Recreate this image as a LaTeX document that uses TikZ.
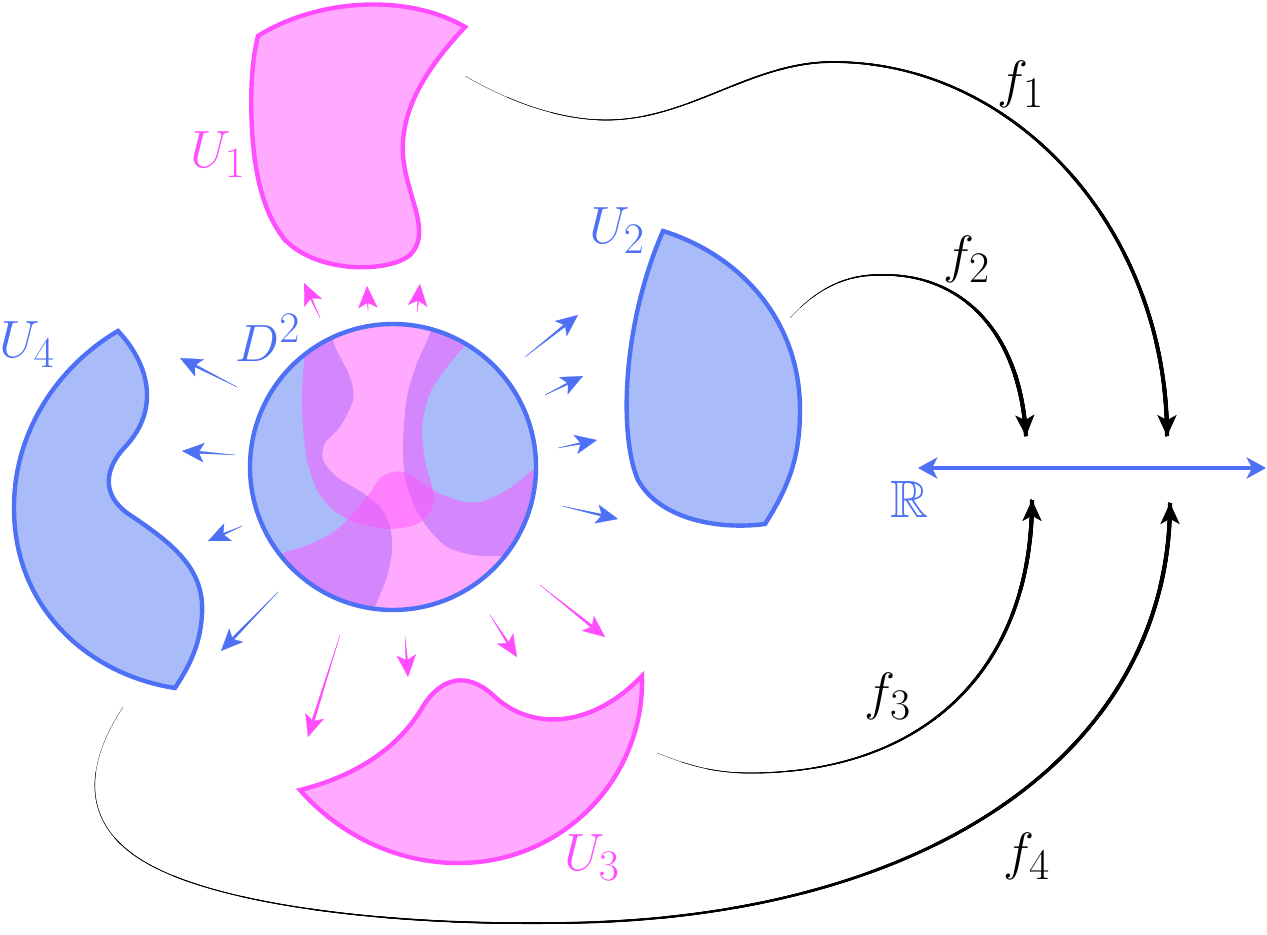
\documentclass[tikz,border=0pt]{standalone}
\usepackage{amssymb}
\usepackage{graphicx}
\usetikzlibrary{arrows.meta,decorations.markings,calc}
\definecolor{bst}{RGB}{77,112,245}
\definecolor{pst}{RGB}{255,77,255}
\definecolor{bfl}{RGB}{85,119,245}
\definecolor{pfl}{RGB}{255,85,255}
\newcommand{\biglab}[1]{\scalebox{1.2}{\Huge #1}}
\newcount\tpk
\tikzset{
  blob/.style={line width=2.5pt, line join=miter, fill opacity=0.5},
  bblob/.style={blob, draw=bst, fill=bfl},
  pblob/.style={blob, draw=pst, fill=pfl},
  inner/.style={fill opacity=0.5},
  taper/.style={postaction={decorate,decoration={markings,
     mark=between positions 0 and -4pt step 0.4pt with {
       \pgfmathsetmacro\tw{#1*\pgfkeysvalueof{/pgf/decoration/mark info/sequence number}*0.4/\pgfdecoratedpathlength}
       \draw[arrows=-, line width=\tw pt] (-0.3pt,0) -- (0.3pt,0);}}}},
  % tapered stroke of an exact curve: #1 = final width (pt), #2 = path length (pt)
  taperL/.code 2 args={%
    \tpk=0
    \loop
      \pgfmathsetmacro\tpw{#1*(\the\tpk+1)/20}%
      \pgfmathsetmacro\tps{#2*\the\tpk/20}%
      \edef\tpdo{\noexpand\pgfkeysalso{postaction={draw, line cap=butt, line width=\tpw pt, dash pattern=on 0pt off \tps pt on 10000pt}}}%
      \tpdo
      \advance\tpk by 1
    \ifnum\tpk<20 \repeat
  },
  dtip/.tip={Stealth[length=12.5pt,width=11pt,inset=3pt]},
  ftip/.tip={Stealth[length=12pt,width=11pt,inset=3pt]},
  darr/.style={color=#1, line width=0.15pt, -dtip, taper=2.0},
  fhead/.style={color=black, line width=0.3pt, -ftip},
  lab/.style={inner sep=0pt},
}
\begin{document}
\begin{tikzpicture}[x=0.02cm,y=-0.02cm]
\useasboundingbox (0,0) rectangle (1267,935);

% ---- blobs ----
\draw[pblob] (258,36) .. controls (315,0) and (405,-8) .. (465,27)
  .. controls (420,75) and (395,120) .. (405,170)
  .. controls (412,205) and (430,235) .. (410,255)
  .. controls (390,272) and (320,275) .. (285,240)
  .. controls (265,215) and (255,180) .. (252,130)
  .. controls (250,90) and (252,60) .. (258,36) -- cycle;

\draw[bblob] (663,231) .. controls (740,255) and (800,320) .. (800,410)
  .. controls (800,455) and (790,485) .. (765,524)
  .. controls (720,530) and (660,520) .. (638,480)
  .. controls (620,440) and (620,330) .. (663,231) -- cycle;

\draw[bblob] (118,331) .. controls (150,365) and (160,410) .. (125,447)
  .. controls (105,468) and (100,495) .. (130,515)
  .. controls (175,545) and (205,570) .. (202,615)
  .. controls (200,645) and (190,665) .. (175,688)
  .. controls (90,675) and (15,610) .. (14,510)
  .. controls (13,430) and (60,365) .. (118,331) -- cycle;

\draw[pblob] (300,790) .. controls (360,775) and (400,745) .. (422,708)
  .. controls (440,678) and (466,670) .. (494,696)
  .. controls (530,730) and (590,730) .. (642,676)
  .. controls (645,780) and (560,865) .. (455,863)
  .. controls (390,862) and (335,830) .. (300,790) -- cycle;

% ---- disk ----
\coordinate (c) at (393,467);
\begin{scope}
  \clip (c) circle (143);
  \fill[bfl, inner] plot[smooth] coordinates {(333,300) (333,340) (350,377) (353,400) (340,427) (325,443) (323,460) (337,477) (363,493) (380,507) (390,527) (392,550) (387,577) (375,607) (365,640)} -- (220,640) -- (220,300) -- cycle;
  \fill[bfl, inner] plot[smooth] coordinates {(436,300) (430,333) (417,363) (407,397) (403,443) (405,477) (413,503) (427,527) (447,547) (473,555) (500,556) (545,553)} -- (560,560) -- (560,300) -- cycle;
  \fill[pfl, inner] plot[smooth] coordinates {(305,300) (305,343) (302,393) (303,427) (307,460) (317,490) (333,510) (350,520) (373,527) (390,529) (415,525) (430,512) (434,495) (425,460) (422,427) (430,393) (447,367) (463,348) (480,330) (495,300)} -- cycle;
  \fill[pfl, inner] plot[smooth] coordinates {(250,565) (283,553) (313,543) (340,527) (367,497) (380,478) (393,472) (407,473) (433,490) (457,500) (480,502) (507,490) (533,470) (560,450)} -- (560,640) -- (250,640) -- cycle;
\end{scope}
\draw[bst, line width=2.5pt] (c) circle (143);

% ---- arrows from the disk ----
\foreach \n/\c/\ax/\ay/\bx/\by in {
  p1/pst/320/318/304/283, p2/pst/368/310/367/286, p3/pst/417/312/420/284,
  b1/bst/237/387/180/358, b2/bst/235/455/182/451, b3/bst/242/526/208/541, b4/bst/278/592/221/651,
  b5/bst/525/357/578/315, b6/bst/545/395/583/376, b7/bst/558/448/597/440, b8/bst/562/506/618/519,
  q1/pst/340/635/308/737, q2/pst/405/637/408/677, q3/pst/490/615/517/657, q4/pst/540/585/605/637}{
  \coordinate (t\n) at (\ax,\ay);
  \coordinate (h\n) at (\bx,\by);
  \draw[darr=\c] (t\n) -- (h\n);
}

% ---- real line ----
\coordinate (rl) at (918,468);
\coordinate (rr) at (1266,468);
\draw[bst, line width=2.4pt, {Stealth[length=11pt,width=12pt,inset=3pt]}-{Stealth[length=11pt,width=12pt,inset=3pt]}] (rl) -- (rr);

% ---- maps ----
\coordinate (f1s) at (465,76);   \coordinate (f1e) at (1167,436); \coordinate (f1c) at (1167,231);
\coordinate (f2s) at (790,318);  \coordinate (f2e) at (1026,436); \coordinate (f2c) at (1020,330);
\coordinate (f3s) at (657,753);  \coordinate (f3e) at (1032,500); \coordinate (f3c) at (1032,669);
\coordinate (f4s) at (123,707);  \coordinate (f4e) at (1170,503); \coordinate (f4c) at (1170,755);
\path[taperL={2.3}{534}] (f1s) .. controls (510,102) and (560,120) .. (606,120)
   .. controls (690,120) and (750,62) .. (833,62)
   .. controls (1017,62) and (1167,231) .. (f1e);
\path[taperL={2.3}{170}] (f2s) .. controls (820,285) and (850,275) .. (878,275)
   .. controls (960,272) and (1020,330) .. (f2e);
\path[taperL={2.3}{300}] (f3s) .. controls (690,766) and (715,773) .. (750,773)
   .. controls (925,773) and (1032,669) .. (f3e);
\path[taperL={2.3}{805}] (f4s) .. controls (85,765) and (75,830) .. (160,870)
   .. controls (240,908) and (400,925) .. (550,923)
   .. controls (922,923) and (1170,755) .. (f4e);
\foreach \k in {1,2,3,4}{
  \draw[fhead] ($(f\k e)!12pt!(f\k c)$) -- (f\k e);
}

% ---- labels ----
\node[lab, text=pst] (U1) at (218,155) {\biglab{$U_1$}};
\node[lab, text=bst] (U2) at (617,231) {\biglab{$U_2$}};
\node[lab, text=pst] (U3) at (592,858) {\biglab{$U_3$}};
\node[lab, text=bst] (U4) at (27,345) {\biglab{$U_4$}};
\node[lab, text=bst] (D2) at (268,338) {\biglab{$D^2$}};
\node[lab, text=bst] (R) at (909,499) {\biglab{$\mathbb{R}$}};
\node[lab] (l1) at (1021,84) {\biglab{$f_1$}};
\node[lab] (l2) at (967,259) {\biglab{$f_2$}};
\node[lab] (l3) at (888,696) {\biglab{$f_3$}};
\node[lab] (l4) at (1027,856) {\biglab{$f_4$}};
\end{tikzpicture}
\end{document}
